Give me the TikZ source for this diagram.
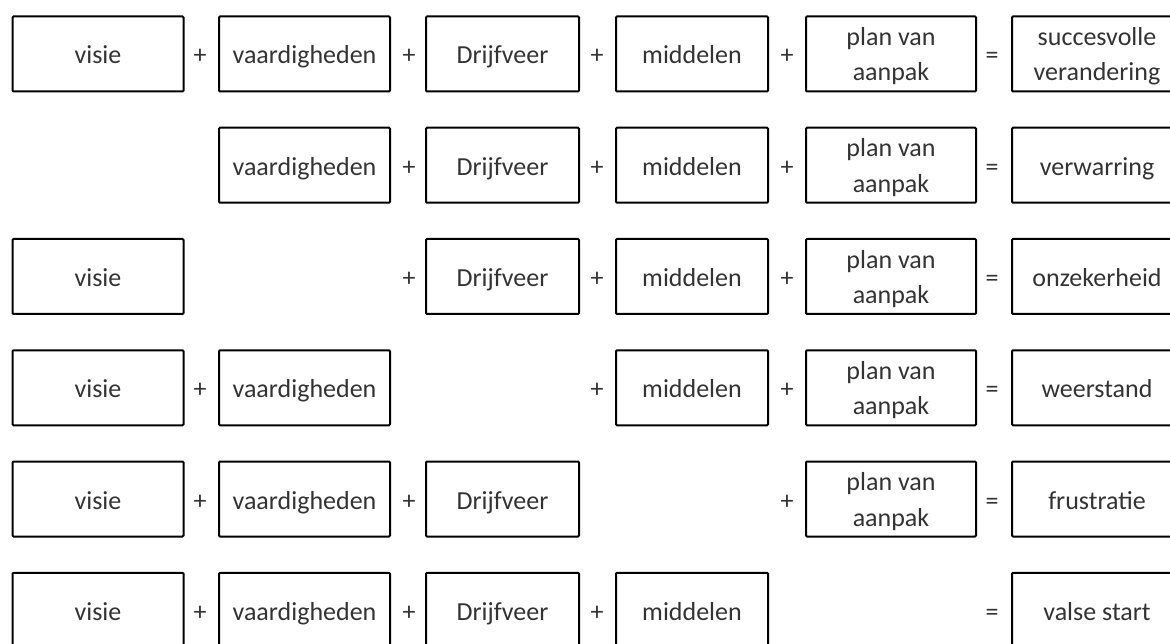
\documentclass[tikz,border=0pt]{standalone}
\usepackage{fontspec}
\setmainfont{Carlito}
\newcommand{\twol}[2]{\begin{tabular}[b]{@{}c@{}}#1\\#2\end{tabular}}
\tikzset{
  txt/.style={font=\fontsize{26}{35.3}\selectfont, text=black!80, inner sep=0pt, text height=20pt, text depth=0pt},
  box/.style={txt, draw=black, line width=2pt, rounded corners=1pt, minimum height=75pt},
  two/.style={text height=54pt},
  cA/.style={box, minimum width=171pt},
  cB/.style={box, minimum width=171pt},
  cC/.style={box, minimum width=153pt},
  cD/.style={box, minimum width=152pt},
  cE/.style={box, minimum width=170pt, two},
  cF/.style={box, minimum width=170pt},
  op/.style={txt}
}
\begin{document}
\begin{tikzpicture}[x=1pt, y=-1pt]
\useasboundingbox (0,0) rectangle (1170,644);
\clip (0,0) rectangle (1170,644);
% row 1
\node[cA] (a1) at (98,54) {visie};
\node[op] (p1a) at (200,54) {+};
\node[cB] (b1) at (304.5,54) {vaardigheden};
\node[op] (p1b) at (409,54) {+};
\node[cC] (c1) at (502.5,54) {Drijfveer};
\node[op] (p1c) at (597,54) {+};
\node[cD] (d1) at (692,54) {middelen};
\node[op] (p1d) at (787,54) {+};
\node[cE] (e1) at (891,54) {\twol{plan van}{aanpak}};
\node[op] (q1) at (992,54) {=};
\node[cF, two] (f1) at (1097,54) {\twol{succesvolle}{verandering}};
% row 2
\node[cB] (b2) at (304.5,165.25) {vaardigheden};
\node[op] (p2b) at (409,165.25) {+};
\node[cC] (c2) at (502.5,165.25) {Drijfveer};
\node[op] (p2c) at (597,165.25) {+};
\node[cD] (d2) at (692,165.25) {middelen};
\node[op] (p2d) at (787,165.25) {+};
\node[cE] (e2) at (891,165.25) {\twol{plan van}{aanpak}};
\node[op] (q2) at (992,165.25) {=};
\node[cF] (f2) at (1097,165.25) {verwarring};
% row 3
\node[cA] (a3) at (98,276.5) {visie};
\node[op] (p3b) at (409,276.5) {+};
\node[cC] (c3) at (502.5,276.5) {Drijfveer};
\node[op] (p3c) at (597,276.5) {+};
\node[cD] (d3) at (692,276.5) {middelen};
\node[op] (p3d) at (787,276.5) {+};
\node[cE] (e3) at (891,276.5) {\twol{plan van}{aanpak}};
\node[op] (q3) at (992,276.5) {=};
\node[cF] (f3) at (1097,276.5) {onzekerheid};
% row 4
\node[cA] (a4) at (98,387.75) {visie};
\node[op] (p4a) at (200,387.75) {+};
\node[cB] (b4) at (304.5,387.75) {vaardigheden};
\node[op] (p4c) at (597,387.75) {+};
\node[cD] (d4) at (692,387.75) {middelen};
\node[op] (p4d) at (787,387.75) {+};
\node[cE] (e4) at (891,387.75) {\twol{plan van}{aanpak}};
\node[op] (q4) at (992,387.75) {=};
\node[cF] (f4) at (1097,387.75) {weerstand};
% row 5
\node[cA] (a5) at (98,499) {visie};
\node[op] (p5a) at (200,499) {+};
\node[cB] (b5) at (304.5,499) {vaardigheden};
\node[op] (p5b) at (409,499) {+};
\node[cC] (c5) at (502.5,499) {Drijfveer};
\node[op] (p5d) at (787,499) {+};
\node[cE] (e5) at (891,499) {\twol{plan van}{aanpak}};
\node[op] (q5) at (992,499) {=};
\node[cF] (f5) at (1097,499) {frustratie};
% row 6
\node[cA] (a6) at (98,610.25) {visie};
\node[op] (p6a) at (200,610.25) {+};
\node[cB] (b6) at (304.5,610.25) {vaardigheden};
\node[op] (p6b) at (409,610.25) {+};
\node[cC] (c6) at (502.5,610.25) {Drijfveer};
\node[op] (p6c) at (597,610.25) {+};
\node[cD] (d6) at (692,610.25) {middelen};
\node[op] (q6) at (992,610.25) {=};
\node[cF] (f6) at (1097,610.25) {valse start};
\end{tikzpicture}
\end{document}
